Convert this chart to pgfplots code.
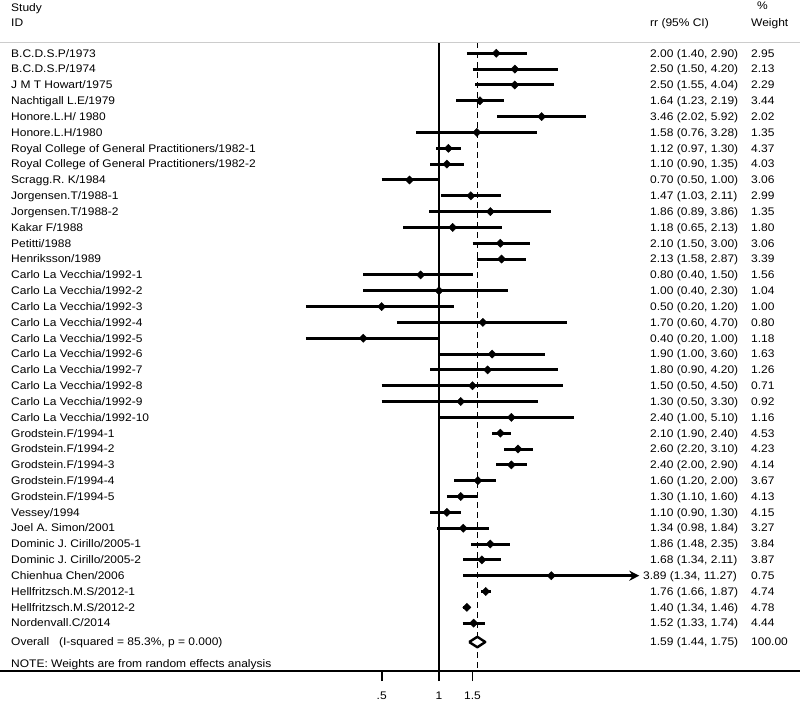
\documentclass[border=0pt]{standalone}
\usepackage{pgfplots}
\pgfplotsset{compat=1.18}
\usepackage{pgfplotstable}
\usetikzlibrary{arrows.meta}
\usepackage{fontspec}
\setmainfont{Liberation Sans}[FakeStretch=1.09]
\pgfplotstableread{
row rr lo hi w
1 2.00 1.40 2.90 2.95
2 2.50 1.50 4.20 2.13
3 2.50 1.55 4.04 2.29
4 1.64 1.23 2.19 3.44
5 3.46 2.02 5.92 2.02
6 1.58 0.76 3.28 1.35
7 1.12 0.97 1.30 4.37
8 1.10 0.90 1.35 4.03
9 0.70 0.50 1.00 3.06
10 1.47 1.03 2.11 2.99
11 1.86 0.89 3.86 1.35
12 1.18 0.65 2.13 1.80
13 2.10 1.50 3.00 3.06
14 2.13 1.58 2.87 3.39
15 0.80 0.40 1.50 1.56
16 1.00 0.40 2.30 1.04
17 0.50 0.20 1.20 1.00
18 1.70 0.60 4.70 0.80
19 0.40 0.20 1.00 1.18
20 1.90 1.00 3.60 1.63
21 1.80 0.90 4.20 1.26
22 1.50 0.50 4.50 0.71
23 1.30 0.50 3.30 0.92
24 2.40 1.00 5.10 1.16
25 2.10 1.90 2.40 4.53
26 2.60 2.20 3.10 4.23
27 2.40 2.00 2.90 4.14
28 1.60 1.20 2.00 3.67
29 1.30 1.10 1.60 4.13
30 1.10 0.90 1.30 4.15
31 1.34 0.98 1.84 3.27
32 1.86 1.48 2.35 3.84
33 1.68 1.34 2.11 3.87
34 3.89 1.34 11.27 0.75
35 1.76 1.66 1.87 4.74
36 1.40 1.34 1.46 4.78
37 1.52 1.33 1.74 4.44
}\studies
\newcommand\ci[3]{\addplot[black, line width=3pt] coordinates {(#1,-#3) (#2,-#3)};}
\tikzset{txt/.style={font=\fontsize{11}{13}\selectfont, inner sep=0pt, anchor=base west}}
\begin{document}
\begin{tikzpicture}
\path[use as bounding box] (0,-30pt) rectangle (800pt,671pt);
\begin{axis}[at={(0,0)}, anchor=south west, scale only axis,
  width=800pt, height=671pt,
  xmode=log, xmin=0.00495, xmax=78.66,
  ymin=-40.02, ymax=2.367,
  axis x line=bottom, axis y line=none,
  axis line style={line width=1.8pt, -},
  xtick={0.5,1,1.5}, xticklabels={.5,1,1.5},
  xtick align=outside, major tick length=10pt,
  xtick style={draw=black, line width=1.8pt},
  xticklabel style={font=\fontsize{11}{13}\selectfont, inner sep=0pt, anchor=base, yshift=-18pt},
  clip=false]
% reference lines
\addplot[black, line width=1.8pt] coordinates {(1,-0.305) (1,-40.02)};
\addplot[black, line width=1.1pt, dash pattern=on 6pt off 4pt] coordinates {(1.59,-0.305) (1.59,-40.02)};
% confidence intervals (lower, upper, row)
\ci{1.40}{2.90}{1}
\ci{1.50}{4.20}{2}
\ci{1.55}{4.04}{3}
\ci{1.23}{2.19}{4}
\ci{2.02}{5.92}{5}
\ci{0.76}{3.28}{6}
\ci{0.97}{1.30}{7}
\ci{0.90}{1.35}{8}
\ci{0.50}{1.00}{9}
\ci{1.03}{2.11}{10}
\ci{0.89}{3.86}{11}
\ci{0.65}{2.13}{12}
\ci{1.50}{3.00}{13}
\ci{1.58}{2.87}{14}
\ci{0.40}{1.50}{15}
\ci{0.40}{2.30}{16}
\ci{0.20}{1.20}{17}
\ci{0.60}{4.70}{18}
\ci{0.20}{1.00}{19}
\ci{1.00}{3.60}{20}
\ci{0.90}{4.20}{21}
\ci{0.50}{4.50}{22}
\ci{0.50}{3.30}{23}
\ci{1.00}{5.10}{24}
\ci{1.90}{2.40}{25}
\ci{2.20}{3.10}{26}
\ci{2.00}{2.90}{27}
\ci{1.20}{2.00}{28}
\ci{1.10}{1.60}{29}
\ci{0.90}{1.30}{30}
\ci{0.98}{1.84}{31}
\ci{1.48}{2.35}{32}
\ci{1.34}{2.11}{33}
\ci{1.66}{1.87}{35}
\ci{1.34}{1.46}{36}
\ci{1.33}{1.74}{37}
% truncated CI with arrow (Chienhua Chen, 1.34 to 11.27)
\addplot[black, line width=3pt, -{Stealth[length=10pt,width=10pt]}] coordinates {(1.34,-34) (11.27,-34)};
% point estimates
\addplot[only marks, mark=square*, mark size=2.9pt, black, mark options={rotate=45}]
  table[x=rr, y expr=-\thisrow{row}] {\studies};
% overall diamond
\addplot[black, line width=2.4pt, fill=white, line join=round]
  coordinates {(1.44,-38.19) (1.59,-37.86) (1.75,-38.19) (1.59,-38.52) (1.44,-38.19)};
\end{axis}
% tick marks below the axis line (at .5, 1, 1.5 on the log scale)
\foreach \t in {381.7,439,472.5} \draw[black, line width=1.8pt] (\t pt,0.9pt) -- (\t pt,-10pt);
% header line
\draw[gray!40, line width=1.3pt] (0,628.7pt) -- (800pt,628.7pt);
% headers
\node[txt] at (11pt,659.5pt) {Study};
\node[txt] at (11pt,644.3pt) {ID};
\node[txt] at (650pt,644.8pt) {rr (95\% CI)};
\node[txt] at (757pt,661pt) {\%};
\node[txt] at (751pt,644.3pt) {Weight};
% study labels
\foreach \n [count=\i] in {B.C.D.S.P/1973, B.C.D.S.P/1974, J M T Howart/1975,
  Nachtigall L.E/1979, Honore.L.H/ 1980, Honore.L.H/1980,
  Royal College of General Practitioners/1982-1,
  Royal College of General Practitioners/1982-2,
  Scragg.R. K/1984, Jorgensen.T/1988-1, Jorgensen.T/1988-2, Kakar F/1988,
  Petitti/1988, Henriksson/1989,
  Carlo La Vecchia/1992-1, Carlo La Vecchia/1992-2, Carlo La Vecchia/1992-3,
  Carlo La Vecchia/1992-4, Carlo La Vecchia/1992-5, Carlo La Vecchia/1992-6,
  Carlo La Vecchia/1992-7, Carlo La Vecchia/1992-8, Carlo La Vecchia/1992-9,
  Carlo La Vecchia/1992-10,
  Grodstein.F/1994-1, Grodstein.F/1994-2, Grodstein.F/1994-3,
  Grodstein.F/1994-4, Grodstein.F/1994-5, Vessey/1994, Joel A. Simon/2001,
  Dominic J. Cirillo/2005-1, Dominic J. Cirillo/2005-2, Chienhua Chen/2006,
  Hellfritzsch.M.S/2012-1, Hellfritzsch.M.S/2012-2, Nordenvall.C/2014}
  {\node[txt] at (11pt,{(629.73-15.83*\i)*1pt}) {\n};}
% CI and weight columns
\foreach \a/\b/\c/\w [count=\i] in {2.00/1.40/2.90/2.95, 2.50/1.50/4.20/2.13,
  2.50/1.55/4.04/2.29, 1.64/1.23/2.19/3.44, 3.46/2.02/5.92/2.02,
  1.58/0.76/3.28/1.35, 1.12/0.97/1.30/4.37, 1.10/0.90/1.35/4.03,
  0.70/0.50/1.00/3.06, 1.47/1.03/2.11/2.99, 1.86/0.89/3.86/1.35,
  1.18/0.65/2.13/1.80, 2.10/1.50/3.00/3.06, 2.13/1.58/2.87/3.39,
  0.80/0.40/1.50/1.56, 1.00/0.40/2.30/1.04, 0.50/0.20/1.20/1.00,
  1.70/0.60/4.70/0.80, 0.40/0.20/1.00/1.18, 1.90/1.00/3.60/1.63,
  1.80/0.90/4.20/1.26, 1.50/0.50/4.50/0.71, 1.30/0.50/3.30/0.92,
  2.40/1.00/5.10/1.16, 2.10/1.90/2.40/4.53, 2.60/2.20/3.10/4.23,
  2.40/2.00/2.90/4.14, 1.60/1.20/2.00/3.67, 1.30/1.10/1.60/4.13,
  1.10/0.90/1.30/4.15, 1.34/0.98/1.84/3.27, 1.86/1.48/2.35/3.84,
  1.68/1.34/2.11/3.87, 3.89/1.34/11.27/0.75, 1.76/1.66/1.87/4.74,
  1.40/1.34/1.46/4.78, 1.52/1.33/1.74/4.44}
  {\pgfmathsetmacro{\xx}{ifthenelse(\i==34,643,650)}
   \node[txt] at (\xx pt,{(629.73-15.83*\i)*1pt}) {\a\ (\b, \c)};
   \node[txt] at (751pt,{(629.73-15.83*\i)*1pt}) {\w};}
% overall row
\node[txt] at (11pt,25.2pt) {Overall\ \ \ (I-squared = 85.3\%, p = 0.000)};
\node[txt] at (650pt,25.2pt) {1.59 (1.44, 1.75)};
\node[txt] at (751pt,25.2pt) {100.00};
\node[txt] at (11pt,3.9pt) {NOTE: Weights are from random effects analysis};
\end{tikzpicture}
\end{document}
